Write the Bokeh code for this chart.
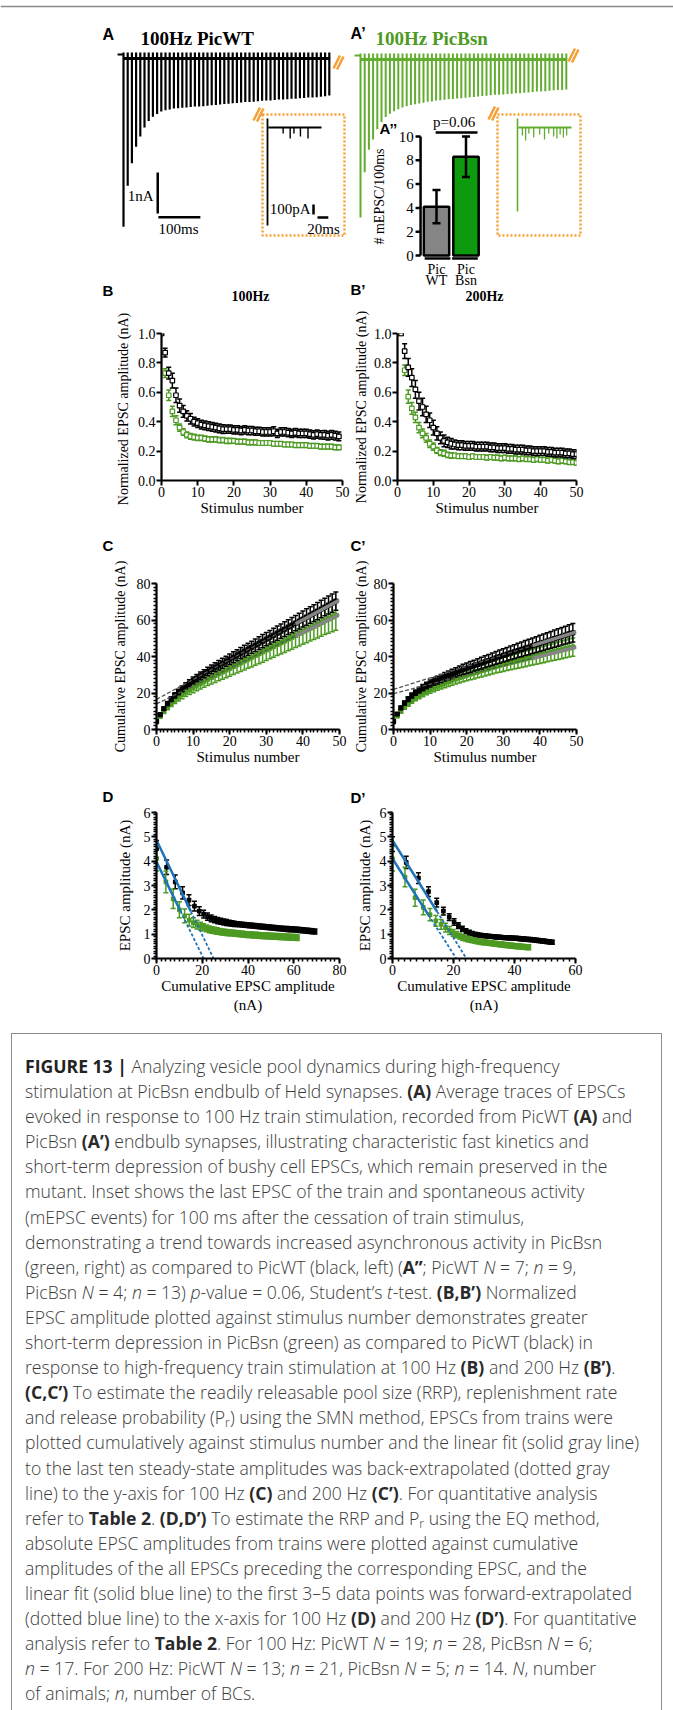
import numpy as np
from bokeh.plotting import figure
from bokeh.layouts import column, row
from bokeh.models import Range1d, Div, SingleIntervalTicker, PrintfTickFormatter
from bokeh.core.properties import value
from bokeh.embed import file_html
from bokeh.resources import INLINE

# ======================= DATA =======================
# A / A': amplitudes (nA) of the 50 EPSCs of the 100 Hz train
trace_wt_amp = [4.20, 3.20, 2.65, 2.25, 2.00, 1.78, 1.62, 1.52, 1.45, 1.39,
                1.36, 1.34, 1.32, 1.31, 1.30, 1.29, 1.28, 1.27, 1.27, 1.26,
                1.25, 1.24, 1.23, 1.22, 1.21, 1.20, 1.19, 1.18, 1.17, 1.16,
                1.16, 1.15, 1.14, 1.13, 1.12, 1.12, 1.11, 1.10, 1.10, 1.09,
                1.08, 1.08, 1.07, 1.06, 1.05, 1.05, 1.04, 1.03, 1.02, 1.00]
trace_bsn_amp = [3.95, 2.85, 2.30, 2.05, 1.80, 1.62, 1.50, 1.42, 1.36, 1.31,
                 1.27, 1.24, 1.21, 1.19, 1.17, 1.15, 1.13, 1.12, 1.10, 1.09,
                 1.08, 1.07, 1.06, 1.05, 1.04, 1.03, 1.02, 1.01, 1.00, 0.99,
                 0.98, 0.97, 0.96, 0.96, 0.95, 0.94, 0.93, 0.92, 0.92, 0.91,
                 0.90, 0.89, 0.88, 0.88, 0.87, 0.86, 0.85, 0.84, 0.84, 0.83]
stim_interval_ms = 10.0
# insets: last EPSC (pA) and mEPSC events (ms after last EPSC, pA)
inset_wt_last = -980
inset_wt_ev_t = [29, 42, 49, 61, 75]
inset_wt_ev_a = [-60, -110, -60, -90, -110]
inset_bsn_last = -840
inset_bsn_ev_t = [9, 15, 21, 30, 41, 50, 58, 67, 73, 79, 85, 91]
inset_bsn_ev_a = [-80, -130, -60, -100, -70, -120, -60, -90, -110, -70, -100, -80]
# A''
mepsc_groups = ["Pic WT", "Pic Bsn"]
mepsc_mean = [4.1, 8.3]
mepsc_sem = [1.4, 1.7]
mepsc_ticks = [0, 2, 4, 6, 8, 10]
mepsc_p = "p=0.06"

# B / B': normalized EPSC amplitude
b_wt100 = [1.00, 0.87, 0.73, 0.68, 0.58, 0.51, 0.47, 0.44, 0.42, 0.40,
           0.39, 0.38, 0.375, 0.37, 0.365, 0.36, 0.355, 0.35, 0.35, 0.35,
           0.345, 0.345, 0.34, 0.345, 0.34, 0.34, 0.335, 0.335, 0.33, 0.33,
           0.33, 0.335, 0.32, 0.33, 0.33, 0.325, 0.32, 0.325, 0.32, 0.32,
           0.32, 0.315, 0.31, 0.315, 0.31, 0.31, 0.305, 0.31, 0.305, 0.30]
b_wt100_err = [0.00, 0.03, 0.04, 0.05, 0.05, 0.045, 0.04, 0.035, 0.035, 0.03,
               0.03, 0.03, 0.03, 0.03, 0.03, 0.03, 0.03, 0.03, 0.028, 0.028,
               0.028, 0.028, 0.028, 0.028, 0.028, 0.028, 0.028, 0.028, 0.028, 0.028,
               0.028, 0.03, 0.028, 0.028, 0.028, 0.028, 0.028, 0.028, 0.028, 0.028,
               0.028, 0.028, 0.028, 0.028, 0.028, 0.03, 0.03, 0.03, 0.03, 0.03]
b_bsn100 = [1.00, 0.73, 0.58, 0.47, 0.41, 0.36, 0.33, 0.31, 0.30, 0.295,
            0.29, 0.29, 0.285, 0.28, 0.28, 0.28, 0.275, 0.275, 0.27, 0.27,
            0.27, 0.265, 0.265, 0.265, 0.26, 0.26, 0.26, 0.255, 0.255, 0.255,
            0.255, 0.25, 0.25, 0.25, 0.245, 0.245, 0.245, 0.24, 0.24, 0.24,
            0.24, 0.235, 0.235, 0.235, 0.23, 0.23, 0.23, 0.23, 0.225, 0.225]
b_bsn100_err = [0.00, 0.03, 0.035, 0.035, 0.03, 0.025, 0.022, 0.02, 0.02, 0.02,
                0.018, 0.018, 0.018, 0.018, 0.018, 0.018, 0.018, 0.018, 0.018, 0.018,
                0.016, 0.016, 0.016, 0.016, 0.016, 0.016, 0.016, 0.016, 0.016, 0.016,
                0.016, 0.016, 0.016, 0.016, 0.016, 0.016, 0.016, 0.016, 0.016, 0.016,
                0.016, 0.016, 0.016, 0.016, 0.016, 0.016, 0.016, 0.016, 0.016, 0.016]
b_wt200 = [1.00, 0.88, 0.77, 0.70, 0.62, 0.54, 0.50, 0.45, 0.41, 0.36,
           0.32, 0.29, 0.27, 0.26, 0.25, 0.245, 0.24, 0.24, 0.235, 0.235,
           0.235, 0.23, 0.23, 0.23, 0.23, 0.225, 0.225, 0.22, 0.22, 0.22,
           0.215, 0.215, 0.21, 0.21, 0.21, 0.205, 0.205, 0.20, 0.20, 0.20,
           0.20, 0.195, 0.195, 0.19, 0.19, 0.19, 0.185, 0.185, 0.18, 0.18]
b_wt200_err = [0.00, 0.05, 0.06, 0.06, 0.06, 0.06, 0.06, 0.055, 0.05, 0.05,
               0.045, 0.04, 0.04, 0.035, 0.035, 0.03, 0.03, 0.03, 0.03, 0.03,
               0.03, 0.03, 0.03, 0.03, 0.03, 0.03, 0.03, 0.03, 0.03, 0.03,
               0.03, 0.03, 0.03, 0.03, 0.03, 0.03, 0.03, 0.03, 0.03, 0.03,
               0.03, 0.03, 0.03, 0.03, 0.03, 0.03, 0.03, 0.03, 0.03, 0.03]
b_bsn200 = [1.00, 0.75, 0.57, 0.49, 0.43, 0.36, 0.32, 0.29, 0.25, 0.23,
            0.205, 0.19, 0.185, 0.175, 0.17, 0.17, 0.165, 0.165, 0.165, 0.16,
            0.165, 0.16, 0.16, 0.16, 0.155, 0.16, 0.155, 0.155, 0.15, 0.155,
            0.15, 0.15, 0.15, 0.145, 0.15, 0.145, 0.145, 0.14, 0.145, 0.14,
            0.14, 0.135, 0.14, 0.135, 0.13, 0.135, 0.13, 0.125, 0.125, 0.12]
b_bsn200_err = [0.00, 0.035, 0.045, 0.04, 0.035, 0.035, 0.03, 0.03, 0.025, 0.025,
                0.02, 0.02, 0.02, 0.018, 0.018, 0.016, 0.016, 0.016, 0.016, 0.016,
                0.016, 0.016, 0.016, 0.016, 0.016, 0.016, 0.016, 0.016, 0.016, 0.016,
                0.016, 0.016, 0.016, 0.016, 0.016, 0.016, 0.016, 0.016, 0.016, 0.016,
                0.016, 0.016, 0.016, 0.016, 0.016, 0.016, 0.016, 0.016, 0.016, 0.016]

# C / C': cumulative EPSC amplitude (nA)
c_wt100 = [4.4, 8.2, 11.4, 14.2, 16.6, 18.7, 20.6, 22.3, 23.9, 25.4,
           26.8, 28.1, 29.4, 30.6, 31.8, 33.0, 34.1, 35.2, 36.3, 37.4,
           38.5, 39.6, 40.7, 41.8, 42.9, 44.0, 45.1, 46.2, 47.3, 48.4,
           49.5, 50.6, 51.7, 52.8, 53.9, 55.0, 56.1, 57.2, 58.3, 59.4,
           60.5, 61.6, 62.7, 63.8, 64.9, 66.0, 67.1, 68.2, 69.3, 70.4]
c_wt100_err = [0.4, 0.7, 0.9, 1.1, 1.3, 1.4, 1.5, 1.6, 1.7, 1.8,
               1.9, 2.0, 2.1, 2.2, 2.3, 2.4, 2.5, 2.6, 2.7, 2.8,
               2.9, 3.0, 3.0, 3.1, 3.2, 3.3, 3.3, 3.4, 3.5, 3.6,
               3.6, 3.7, 3.8, 3.9, 3.9, 4.0, 4.1, 4.2, 4.2, 4.3,
               4.4, 4.5, 4.5, 4.6, 4.7, 4.8, 4.8, 4.9, 5.0, 5.0]
c_bsn100 = [4.1, 7.3, 10.0, 12.3, 14.3, 16.1, 17.7, 19.2, 20.6, 21.9,
            23.1, 24.3, 25.4, 26.5, 27.6, 28.6, 29.6, 30.6, 31.6, 32.6,
            33.6, 34.6, 35.6, 36.6, 37.6, 38.6, 39.6, 40.6, 41.6, 42.6,
            43.6, 44.6, 45.6, 46.6, 47.6, 48.6, 49.6, 50.6, 51.6, 52.6,
            53.6, 54.6, 55.6, 56.6, 57.6, 58.6, 59.6, 60.6, 61.6, 62.6]
c_bsn100_err = [0.5, 0.9, 1.2, 1.5, 1.7, 1.9, 2.1, 2.3, 2.5, 2.7,
                2.9, 3.0, 3.2, 3.3, 3.5, 3.6, 3.8, 3.9, 4.1, 4.2,
                4.4, 4.5, 4.7, 4.8, 5.0, 5.1, 5.3, 5.4, 5.6, 5.7,
                5.8, 5.9, 6.0, 6.1, 6.2, 6.4, 6.5, 6.6, 6.7, 6.8,
                6.9, 7.0, 7.1, 7.3, 7.4, 7.5, 7.6, 7.8, 8.0, 8.2]
c_wt200 = [4.5, 8.5, 11.8, 14.5, 16.7, 18.6, 20.2, 21.6, 22.9, 24.1,
           25.2, 26.2, 27.1, 28.0, 28.9, 29.7, 30.5, 31.3, 32.1, 32.9,
           33.6, 34.3, 35.0, 35.7, 36.4, 37.1, 37.8, 38.5, 39.2, 39.9,
           40.6, 41.3, 42.0, 42.6, 43.3, 43.9, 44.6, 45.2, 45.9, 46.5,
           47.2, 47.8, 48.5, 49.1, 49.8, 50.4, 51.1, 51.7, 52.4, 53.0]
c_wt200_err = [0.4, 0.7, 0.9, 1.1, 1.3, 1.4, 1.5, 1.6, 1.7, 1.8,
               1.9, 2.0, 2.1, 2.2, 2.3, 2.4, 2.5, 2.6, 2.7, 2.8,
               2.9, 3.0, 3.0, 3.1, 3.2, 3.3, 3.3, 3.4, 3.5, 3.6,
               3.6, 3.7, 3.8, 3.9, 3.9, 4.0, 4.1, 4.2, 4.2, 4.3,
               4.4, 4.5, 4.5, 4.6, 4.7, 4.8, 4.8, 4.9, 5.0, 5.1]
c_bsn200 = [4.1, 7.4, 10.1, 12.3, 14.2, 15.9, 17.4, 18.7, 19.9, 21.0,
            22.0, 22.9, 23.8, 24.6, 25.4, 26.2, 27.0, 27.7, 28.4, 29.1,
            29.8, 30.4, 31.0, 31.6, 32.2, 32.8, 33.4, 34.0, 34.6, 35.2,
            35.7, 36.2, 36.7, 37.2, 37.7, 38.2, 38.7, 39.2, 39.7, 40.2,
            40.7, 41.2, 41.7, 42.2, 42.7, 43.2, 43.7, 44.2, 44.7, 45.2]
c_bsn200_err = [0.5, 0.8, 1.0, 1.2, 1.4, 1.5, 1.7, 1.8, 1.9, 2.0,
                2.1, 2.2, 2.3, 2.4, 2.5, 2.6, 2.7, 2.8, 2.9, 3.0,
                3.1, 3.2, 3.3, 3.3, 3.4, 3.5, 3.6, 3.6, 3.7, 3.8,
                3.9, 3.9, 4.0, 4.1, 4.1, 4.2, 4.3, 4.3, 4.4, 4.5,
                4.5, 4.6, 4.6, 4.7, 4.8, 4.8, 4.9, 4.9, 5.0, 5.0]
# linear fits to the last ten points: (intercept, slope)
c_fit_wt100 = (16.5, 1.09)
c_fit_bsn100 = (14.0, 0.98)
c_fit_wt200 = (22.0, 0.63)
c_fit_bsn200 = (19.7, 0.51)

# D / D': EPSC amplitude (nA) vs cumulative amplitude of the preceding EPSCs
d_wt100 = [4.50, 3.75, 3.15, 2.70, 2.40, 2.15, 1.95, 1.82, 1.72, 1.65,
           1.60, 1.56, 1.53, 1.50, 1.48, 1.46, 1.44, 1.42, 1.41, 1.40,
           1.39, 1.38, 1.37, 1.36, 1.35, 1.34, 1.33, 1.32, 1.31, 1.30,
           1.29, 1.28, 1.27, 1.26, 1.25, 1.24, 1.23, 1.22, 1.21, 1.20,
           1.20, 1.19, 1.18, 1.17, 1.16, 1.15, 1.14, 1.13, 1.12, 1.11]
d_wt100_err = [0.35, 0.30, 0.28, 0.25, 0.22, 0.20, 0.18, 0.16, 0.15, 0.14,
               0.13, 0.13, 0.12, 0.12, 0.12, 0.11, 0.11, 0.11, 0.10, 0.10,
               0.10, 0.10, 0.10, 0.10, 0.10, 0.10, 0.10, 0.10, 0.10, 0.10,
               0.10, 0.10, 0.10, 0.10, 0.10, 0.10, 0.10, 0.10, 0.10, 0.10,
               0.10, 0.10, 0.10, 0.10, 0.10, 0.10, 0.10, 0.10, 0.10, 0.10]
d_bsn100 = [4.10, 3.15, 2.45, 2.00, 1.75, 1.58, 1.47, 1.39, 1.33, 1.28,
            1.24, 1.20, 1.17, 1.15, 1.13, 1.11, 1.09, 1.08, 1.07, 1.06,
            1.05, 1.04, 1.03, 1.02, 1.01, 1.00, 0.99, 0.98, 0.98, 0.97,
            0.96, 0.96, 0.95, 0.94, 0.94, 0.93, 0.93, 0.92, 0.92, 0.91,
            0.91, 0.90, 0.90, 0.89, 0.89, 0.88, 0.88, 0.87, 0.87, 0.86]
d_bsn100_err = [0.50, 0.45, 0.40, 0.33, 0.28, 0.24, 0.20, 0.18, 0.16, 0.15,
                0.14, 0.14, 0.13, 0.13, 0.13, 0.12, 0.12, 0.12, 0.12, 0.12,
                0.12, 0.12, 0.12, 0.12, 0.12, 0.12, 0.12, 0.12, 0.12, 0.12,
                0.12, 0.12, 0.12, 0.12, 0.12, 0.12, 0.12, 0.12, 0.12, 0.12,
                0.12, 0.12, 0.12, 0.12, 0.12, 0.12, 0.12, 0.12, 0.12, 0.12]
d_wt200 = [4.70, 3.95, 3.30, 2.75, 2.30, 1.95, 1.70, 1.50, 1.35, 1.22,
           1.12, 1.06, 1.02, 0.99, 0.97, 0.95, 0.94, 0.93, 0.92, 0.91,
           0.90, 0.89, 0.88, 0.88, 0.87, 0.86, 0.86, 0.85, 0.85, 0.84,
           0.83, 0.83, 0.82, 0.81, 0.81, 0.80, 0.79, 0.78, 0.78, 0.77,
           0.76, 0.75, 0.74, 0.73, 0.72, 0.71, 0.70, 0.69, 0.68, 0.67]
d_wt200_err = [0.30, 0.25, 0.22, 0.20, 0.18, 0.16, 0.14, 0.13, 0.12, 0.11,
               0.10, 0.10, 0.09, 0.09, 0.09, 0.09, 0.08, 0.08, 0.08, 0.08,
               0.08, 0.08, 0.08, 0.08, 0.08, 0.08, 0.08, 0.08, 0.08, 0.08,
               0.08, 0.08, 0.08, 0.08, 0.08, 0.08, 0.08, 0.08, 0.08, 0.08,
               0.08, 0.08, 0.08, 0.08, 0.08, 0.08, 0.08, 0.08, 0.08, 0.08]
d_bsn200 = [4.10, 3.35, 2.50, 2.10, 1.80, 1.55, 1.40, 1.27, 1.15, 1.05,
            0.98, 0.92, 0.87, 0.83, 0.80, 0.77, 0.75, 0.73, 0.71, 0.70,
            0.68, 0.67, 0.66, 0.65, 0.64, 0.63, 0.62, 0.61, 0.60, 0.59,
            0.58, 0.58, 0.57, 0.56, 0.55, 0.55, 0.54, 0.53, 0.53, 0.52,
            0.51, 0.51, 0.50, 0.50, 0.49, 0.48, 0.48, 0.47, 0.47, 0.46]
d_bsn200_err = [0.50, 0.40, 0.35, 0.30, 0.25, 0.22, 0.20, 0.18, 0.16, 0.14,
                0.13, 0.12, 0.12, 0.11, 0.11, 0.10, 0.10, 0.10, 0.10, 0.10,
                0.10, 0.10, 0.10, 0.10, 0.10, 0.10, 0.10, 0.10, 0.10, 0.10,
                0.10, 0.10, 0.10, 0.10, 0.10, 0.10, 0.10, 0.10, 0.10, 0.10,
                0.10, 0.10, 0.10, 0.10, 0.10, 0.10, 0.10, 0.10, 0.10, 0.10]
# cumulative amplitude preceding each EPSC (from the cumulative curves)
d_wt100_x = [0.0] + c_wt100[:-1]
d_bsn100_x = [0.0] + c_bsn100[:-1]
d_wt200_x = [0.0] + c_wt200[:-1]
d_bsn200_x = [0.0] + c_bsn200[:-1]
# linear fits to the first points: (intercept, slope, end of fitted range)
d_fit_wt100 = (4.86, -0.195, 15.0)
d_fit_bsn100 = (3.97, -0.193, 10.5)
d_fit_wt200 = (4.85, -0.200, 14.6)
d_fit_bsn200 = (4.10, -0.196, 11.8)

stim_0 = list(range(0, 50))
stim_1 = list(range(1, 51))

# ======================= STYLE =======================
SERIF = "Liberation Serif"
SANS = "Liberation Sans"
BLACK = "#000000"
GREEN = "#4d9a22"
GREEN_TRACE = "#62ad2f"
GREEN_BAR = "#0e9a0e"
GREY_BAR = "#858585"
ORANGE = "#f5a033"
BLUE = "#1f73b9"
FIT_GREY = "#858585"
W = 673


def canvas(height, width=W):
    c = figure(width=width, height=height, x_range=Range1d(0, width), y_range=Range1d(height, 0),
               min_border=0, toolbar_location=None, output_backend="svg",
               x_axis_location=None, y_axis_location=None, outline_line_color=None)
    c.grid.visible = False
    return c


def ctext(c, x, y, s, size="15px", font=SERIF, style="normal", color=BLACK,
          align="left", baseline="middle", angle=0.0, xn=None, yn=None):
    kw = {}
    if xn:
        kw["x_range_name"] = xn
    if yn:
        kw["y_range_name"] = yn
    c.text(x=[x], y=[y], text=[s], text_font=value(font), text_font_size=size,
           text_font_style=style, text_color=color, text_align=align,
           text_baseline=baseline, angle=angle, **kw)


# ======================= TOP ROW (A, A', A'') =======================
H = 306
top = canvas(H)


def xr(p0, s):
    return Range1d((0 - p0) / s, (W - p0) / s)


def yr(p0, s):
    return Range1d((H - p0) / s, (0 - p0) / s)


top.extra_x_ranges = {"wt_t": xr(123, 0.42), "bsn_t": xr(360, 0.42),
                      "wtin_t": xr(267, 0.54), "bsnin_t": xr(517, 0.54),
                      "bar_x": xr(406.5, 29.5)}
top.extra_y_ranges = {"wt_i": yr(54, -41), "bsn_i": yr(55, -41),
                      "wtin_i": yr(127, -0.1), "bsnin_i": yr(127, -0.1),
                      "bar_y": yr(255, -11.9)}

# top rule
top.segment(x0=0, y0=6, x1=W, y1=6, line_color="#8a8a8a", line_width=1.5)

# ---- trace A (PicWT) ----
t_wt = np.arange(len(trace_wt_amp)) * stim_interval_ms
kwA = dict(x_range_name="wt_t", y_range_name="wt_i")
top.line([-14, 0], [0, 0], line_color=BLACK, line_width=2, **kwA)
top.line([0, t_wt[-1] + 2], [-0.1, -0.1], line_color=BLACK, line_width=3, **kwA)
top.segment(x0=t_wt, y0=0.05, x1=t_wt, y1=-np.array(trace_wt_amp),
            line_color=BLACK, line_width=2.2, **kwA)
# scale bars 1 nA / 100 ms
top.segment(x0=81.5, y0=-2.88, x1=81.5, y1=-3.88, line_color=BLACK, line_width=2.5, **kwA)
top.segment(x0=83, y0=-3.97, x1=183, y1=-3.97, line_color=BLACK, line_width=2.5, **kwA)
ctext(top, 153, 195, "1nA", align="right")
ctext(top, 178, 228, "100ms", align="center")

# ---- trace A' (PicBsn) ----
t_bsn = np.arange(len(trace_bsn_amp)) * stim_interval_ms
kwB = dict(x_range_name="bsn_t", y_range_name="bsn_i")
top.line([-14, 0], [0, 0], line_color=GREEN_TRACE, line_width=2, **kwB)
top.line([0, t_bsn[-1] + 2], [-0.1, -0.1], line_color=GREEN_TRACE, line_width=3, **kwB)
top.segment(x0=t_bsn, y0=0.05, x1=t_bsn, y1=-np.array(trace_bsn_amp),
            line_color=GREEN_TRACE, line_width=2.0, **kwB)

# ---- insets ----
for (bx0, bx1) in [(262, 344), (497, 580)]:
    top.quad(left=bx0, right=bx1, top=114, bottom=235, fill_color=None,
             line_color=ORANGE, line_width=2.5, line_dash="2 2")


def brk(cx, cy):
    top.segment(x0=[cx - 5, cx - 1.5], y0=[cy + 6, cy + 7], x1=[cx + 1.5, cx + 5],
                y1=[cy - 7, cy - 6], line_color=ORANGE, line_width=2.5)


brk(338, 62)
brk(258, 114)
brk(573, 55)
brk(493, 113)

kwI = dict(x_range_name="wtin_t", y_range_name="wtin_i")
top.segment(x0=0, y0=90, x1=0, y1=inset_wt_last, line_color=BLACK, line_width=1.8, **kwI)
top.line([1.5, 100], [0, 0], line_color=BLACK, line_width=2.2, **kwI)
top.segment(x0=inset_wt_ev_t, y0=0, x1=inset_wt_ev_t, y1=inset_wt_ev_a,
            line_color=BLACK, line_width=1.4, **kwI)
top.segment(x0=85.2, y0=-770, x1=85.2, y1=-870, line_color=BLACK, line_width=2.5, **kwI)
top.segment(x0=92.6, y0=-900, x1=112.6, y1=-900, line_color=BLACK, line_width=2.5, **kwI)
ctext(top, 310, 208, "100pA", align="right")
ctext(top, 323, 228, "20ms", align="center")

kwJ = dict(x_range_name="bsnin_t", y_range_name="bsnin_i")
top.segment(x0=0, y0=90, x1=0, y1=inset_bsn_last, line_color=GREEN_TRACE, line_width=1.6, **kwJ)
top.line([1.5, 100], [0, 0], line_color=GREEN_TRACE, line_width=2.0, **kwJ)
top.segment(x0=inset_bsn_ev_t, y0=0, x1=inset_bsn_ev_t, y1=inset_bsn_ev_a,
            line_color=GREEN_TRACE, line_width=1.3, **kwJ)

# ---- bar chart A'' ----
kwK = dict(x_range_name="bar_x", y_range_name="bar_y")
gx = [1, 2]
top.vbar(x=gx, top=mepsc_mean, bottom=0, width=0.86, fill_color=[GREY_BAR, GREEN_BAR],
         line_color=BLACK, line_width=2.5, **kwK)
lo = [m - s for m, s in zip(mepsc_mean, mepsc_sem)]
hi = [m + s for m, s in zip(mepsc_mean, mepsc_sem)]
top.segment(x0=gx, y0=lo, x1=gx, y1=hi, line_color=BLACK, line_width=2.5, **kwK)
top.scatter(gx, hi, marker="dash", size=8, line_color=BLACK, line_width=2.5, **kwK)
top.scatter(gx, lo, marker="dash", size=8, line_color=BLACK, line_width=2.5, **kwK)
ax_x = 0.46
top.segment(x0=ax_x, y0=0, x1=ax_x, y1=mepsc_ticks[-1], line_color=BLACK, line_width=2.5, **kwK)
top.segment(x0=ax_x - 0.17, y0=mepsc_ticks, x1=ax_x, y1=mepsc_ticks,
            line_color=BLACK, line_width=2.5, **kwK)
top.text(x=[ax_x - 0.23] * len(mepsc_ticks), y=mepsc_ticks, text=[str(t) for t in mepsc_ticks],
         text_font=value(SERIF), text_font_size="15px", text_align="right",
         text_baseline="middle", **kwK)
top.segment(x0=[0.6, 1.53], y0=[-0.25, -0.25], x1=[1.47, 2.4], y1=[-0.25, -0.25],
            line_color=BLACK, line_width=2.5, **kwK)
top.text(x=gx, y=[-1.15, -1.15], text=[g.split(" ")[0] for g in mepsc_groups],
         text_font=value(SERIF), text_font_size="14px", text_align="center",
         text_baseline="middle", **kwK)
top.text(x=gx, y=[-2.1, -2.1], text=[g.split(" ")[1] for g in mepsc_groups],
         text_font=value(SERIF), text_font_size="14px", text_align="center",
         text_baseline="middle", **kwK)
top.segment(x0=0.97, y0=10.34, x1=2.39, y1=10.34, line_color=BLACK, line_width=2.5, **kwK)
ctext(top, 1.6, 11.2, mepsc_p, align="center", xn="bar_x", yn="bar_y")
ctext(top, 379, 196, "# mEPSC/100ms", size="14px", align="center", angle=np.pi / 2)

# panel texts of the top row
ctext(top, 102, 34, "A", size="16px", font=SANS, style="bold")
ctext(top, 140, 38, "100Hz PicWT", size="19px", style="bold")
ctext(top, 350, 33, "A\u2019", size="16px", font=SANS, style="bold")
ctext(top, 375, 38, "100Hz PicBsn", size="19px", style="bold", color=GREEN)
ctext(top, 379, 128, "A\u2019\u2019", size="15px", font=SANS, style="bold")
# headings of row B
ctext(top, 102, 290, "B", size="15px", font=SANS, style="bold")
ctext(top, 250, 296, "100Hz", size="14px", style="bold", align="center")
ctext(top, 350, 289, "B\u2019", size="15px", font=SANS, style="bold")
ctext(top, 484, 296, "200Hz", size="14px", style="bold", align="center")


# ======================= PANELS B - D =======================
def panel(width, height, frame, xrng, yrng, xlabel, ylabel, xint, xminor, yint, yminor,
          yfmt=None, ylab_standoff=2, ylab_size="14px"):
    l, t, r, b = frame
    p = figure(width=width, height=height, x_range=Range1d(*xrng), y_range=Range1d(*yrng),
               min_border_left=l, min_border_right=width - r, min_border_top=t,
               min_border_bottom=height - b, toolbar_location=None, output_backend="svg",
               outline_line_color=None)
    p.grid.visible = False
    p.xaxis.ticker = SingleIntervalTicker(interval=xint, num_minor_ticks=xminor)
    p.yaxis.ticker = SingleIntervalTicker(interval=yint, num_minor_ticks=yminor)
    if yfmt:
        p.yaxis.formatter = PrintfTickFormatter(format=yfmt)
    p.xaxis.axis_label = xlabel
    if ylabel:
        p.yaxis.axis_label = ylabel
    for ax, mn in ((p.xaxis[0], xminor), (p.yaxis[0], yminor)):
        ax.axis_line_width = 2.2
        ax.axis_line_color = BLACK
        ax.major_tick_line_width = 2
        ax.major_tick_line_color = BLACK
        ax.major_tick_out = 5
        ax.major_tick_in = 0
        ax.minor_tick_out = 3
        ax.minor_tick_in = 0
        ax.minor_tick_line_width = 1.5 if mn else 0
        ax.minor_tick_line_color = BLACK if mn else None
        ax.major_label_text_font = SERIF
        ax.major_label_text_font_size = "14px"
        ax.major_label_text_color = BLACK
        ax.major_label_standoff = 1
        ax.axis_label_text_font = SERIF
        ax.axis_label_text_font_size = "15px"
        ax.axis_label_text_font_style = "normal"
        ax.axis_label_text_color = BLACK
    p.yaxis.axis_label_text_font_size = ylab_size
    p.xaxis.axis_label_standoff = 0
    p.yaxis.axis_label_standoff = ylab_standoff
    return p


def errpts(p, x, y, e, color, fill, size=4.5, cap=5, lw=1.5):
    x = np.asarray(x, float)
    y = np.asarray(y, float)
    e = np.asarray(e, float)
    p.segment(x, y - e, x, y + e, line_color=color, line_width=lw)
    p.scatter(x, y + e, marker="dash", size=cap, line_color=color, line_width=lw)
    p.scatter(x, y - e, marker="dash", size=cap, line_color=color, line_width=lw)
    p.scatter(x, y, marker="square", size=size, fill_color=fill, line_color=color, line_width=1.2)


def cfit(p, fit):
    b0, m = fit
    p.line([0, 38], [b0, b0 + m * 38], line_color="#555555", line_width=1.3, line_dash="4 2")
    p.line([38, 50], [b0 + m * 38, b0 + m * 50], line_color=FIT_GREY, line_width=3.5)


def dfit(p, fit):
    b0, m, xe = fit
    p.line([0, xe], [b0, b0 + m * xe], line_color=BLUE, line_width=2.5)
    p.line([xe, -b0 / m], [b0 + m * xe, 0], line_color=BLUE, line_width=1.8, line_dash="3 2")


# ---- B ----
b_ylabel = "Normalized EPSC amplitude (nA)"
sBl = Div(width=134, height=224, margin=(0, 0, 0, 0), text=(
    "<div style=\"position:relative;width:134px;height:224px;\">"
    "<div style=\"position:absolute;left:124px;top:103px;transform:translate(-50%,-50%) rotate(-90deg);"
    "white-space:nowrap;font-family:'Liberation Serif',serif;font-size:14px;line-height:16px;color:#000;\">"
    + b_ylabel + "</div></div>"))
pB = panel(216, 224, (25, 27, 208, 174), (0, 50), (0, 1.0), "Stimulus number",
           None, 10, 0, 0.2, 0, yfmt="%.1f")
errpts(pB, stim_0, b_bsn100, b_bsn100_err, GREEN, "white")
errpts(pB, stim_0, b_wt100, b_wt100_err, BLACK, "white")

pB2 = panel(323, 224, (42, 27, 226, 174), (0, 50), (0, 1.0), "Stimulus number",
            b_ylabel, 10, 0, 0.2, 0, yfmt="%.1f")
errpts(pB2, stim_1, b_bsn200, b_bsn200_err, GREEN, "white")
errpts(pB2, stim_1, b_wt200, b_wt200_err, BLACK, "white")

# ---- C ----
sC = canvas(26)
ctext(sC, 102, 15, "C", size="15px", font=SANS, style="bold")
ctext(sC, 350, 15, "C\u2019", size="15px", font=SANS, style="bold")

pC = panel(350, 229, (156, 27, 339, 173), (0, 50), (0, 80), "Stimulus number",
           "Cumulative EPSC amplitude (nA)", 10, 10, 20, 10, ylab_standoff=6)
errpts(pC, stim_0, c_bsn100, c_bsn100_err, GREEN, GREEN, size=4)
errpts(pC, stim_0, c_wt100, c_wt100_err, BLACK, BLACK, size=4)
cfit(pC, c_fit_wt100)
cfit(pC, c_fit_bsn100)

pC2 = panel(323, 229, (42, 27, 226, 173), (0, 50), (0, 80), "Stimulus number",
            "Cumulative EPSC amplitude (nA)", 10, 10, 20, 10, ylab_standoff=2)
errpts(pC2, stim_0, c_bsn200, c_bsn200_err, GREEN, GREEN, size=4)
errpts(pC2, stim_0, c_wt200, c_wt200_err, BLACK, BLACK, size=4)
cfit(pC2, c_fit_wt200)
cfit(pC2, c_fit_bsn200)

# ---- D ----
sD = canvas(22)
ctext(sD, 102, 11, "D", size="15px", font=SANS, style="bold")
ctext(sD, 350, 12, "D\u2019", size="15px", font=SANS, style="bold")

pD = panel(350, 223, (156, 5, 339, 151), (0, 80), (0, 6), "Cumulative EPSC amplitude\n(nA)",
           "EPSC amplitude (nA)", 20, 10, 1, 10, ylab_standoff=8, ylab_size="15px")
errpts(pD, d_wt100_x, d_wt100, d_wt100_err, BLACK, BLACK, size=3.5)
errpts(pD, d_bsn100_x, d_bsn100, d_bsn100_err, GREEN, GREEN, size=3.5)
dfit(pD, d_fit_wt100)
dfit(pD, d_fit_bsn100)

pD2 = panel(323, 223, (42, 5, 225, 151), (0, 60), (0, 6), "Cumulative EPSC amplitude\n(nA)",
            "EPSC amplitude (nA)", 20, 10, 1, 10, ylab_standoff=4, ylab_size="15px")
errpts(pD2, d_wt200_x, d_wt200, d_wt200_err, BLACK, BLACK, size=3.5)
errpts(pD2, d_bsn200_x, d_bsn200, d_bsn200_err, GREEN, GREEN, size=3.5)
dfit(pD2, d_fit_wt200)
dfit(pD2, d_fit_bsn200)

# ======================= CAPTION =======================
cap_lines = [
    "<b style='color:#222'>FIGURE 13 |</b> Analyzing vesicle pool dynamics during high-frequency",
    "stimulation at PicBsn endbulb of Held synapses. <b>(A)</b> Average traces of EPSCs",
    "evoked in response to 100 Hz train stimulation, recorded from PicWT <b>(A)</b> and",
    "PicBsn <b>(A\u2019)</b> endbulb synapses, illustrating characteristic fast kinetics and",
    "short-term depression of bushy cell EPSCs, which remain preserved in the",
    "mutant. Inset shows the last EPSC of the train and spontaneous activity",
    "(mEPSC events) for 100 ms after the cessation of train stimulus,",
    "demonstrating a trend towards increased asynchronous activity in PicBsn",
    "(green, right) as compared to PicWT (black, left) (<b>A\u2019\u2019</b>; PicWT <i>N</i> = 7; <i>n</i> = 9,",
    "PicBsn <i>N</i> = 4; <i>n</i> = 13) <i>p</i>-value = 0.06, Student\u2019s <i>t</i>-test. <b>(B,B\u2019)</b> Normalized",
    "EPSC amplitude plotted against stimulus number demonstrates greater",
    "short-term depression in PicBsn (green) as compared to PicWT (black) in",
    "response to high-frequency train stimulation at 100 Hz <b>(B)</b> and 200 Hz <b>(B\u2019)</b>.",
    "<b>(C,C\u2019)</b> To estimate the readily releasable pool size (RRP), replenishment rate",
    "and release probability (P<sub>r</sub>) using the SMN method, EPSCs from trains were",
    "plotted cumulatively against stimulus number and the linear fit (solid gray line)",
    "to the last ten steady-state amplitudes was back-extrapolated (dotted gray",
    "line) to the y-axis for 100 Hz <b>(C)</b> and 200 Hz <b>(C\u2019)</b>. For quantitative analysis",
    "refer to <b>Table 2</b>. <b>(D,D\u2019)</b> To estimate the RRP and P<sub>r</sub> using the EQ method,",
    "absolute EPSC amplitudes from trains were plotted against cumulative",
    "amplitudes of the all EPSCs preceding the corresponding EPSC, and the",
    "linear fit (solid blue line) to the first 3\u20135 data points was forward-extrapolated",
    "(dotted blue line) to the x-axis for 100 Hz <b>(D)</b> and 200 Hz <b>(D\u2019)</b>. For quantitative",
    "analysis refer to <b>Table 2</b>. For 100 Hz: PicWT <i>N</i> = 19; <i>n</i> = 28, PicBsn <i>N</i> = 6;",
    "<i>n</i> = 17. For 200 Hz: PicWT <i>N</i> = 13; <i>n</i> = 21, PicBsn <i>N</i> = 5; <i>n</i> = 14. <i>N</i>, number",
    "of animals; <i>n</i>, number of BCs.",
]


def fmt_line(s):
    s = s.replace("<b>", "<b style='font-weight:700;color:#2a2a2a'>")
    s = s.replace("<b style='color:#222'>", "<b style='font-weight:700;color:#222'>")
    s = s.replace("<sub>", "<sub style='font-size:70%;line-height:0;vertical-align:-0.25em'>")
    return s


cap_html = (
    "<div style=\"position:relative;width:651px;height:690px;margin:3px 0 0 11px;"
    "border:1.5px solid #8c8c8c;box-sizing:border-box;background:#fff;overflow:hidden;\">"
    "<div style=\"position:absolute;left:13px;top:20px;white-space:nowrap;"
    "font-family:'Open Sans',Roboto,'Liberation Sans',sans-serif;font-size:17.6px;font-weight:300;"
    "line-height:25.1px;color:#3a3a3a;\">"
    + "<br>".join(fmt_line(l) for l in cap_lines)
    + "</div></div>"
)
caption = Div(text=cap_html, width=673, height=680, margin=(0, 0, 0, 0))

layout = column(top, row(sBl, pB, pB2), sC, row(pC, pC2), sD, row(pD, pD2), caption, spacing=0)
open("out.html", "w").write(file_html(layout, INLINE))
